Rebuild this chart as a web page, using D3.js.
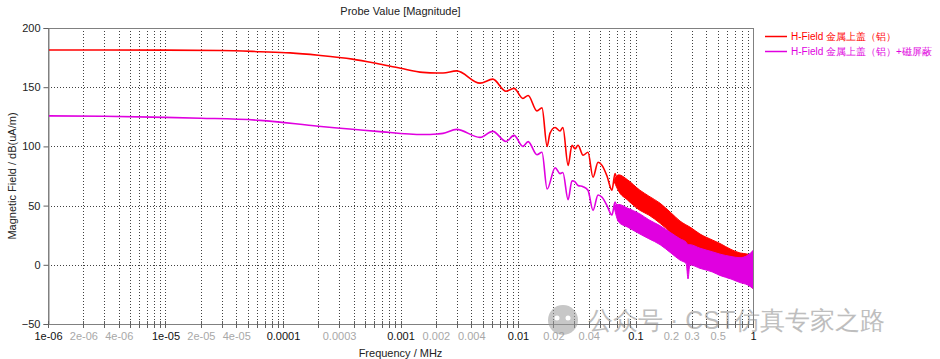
<!DOCTYPE html>
<html><head><meta charset="utf-8">
<script src="https://cdn.jsdelivr.net/npm/d3@7/dist/d3.min.js"></script>
<style>
html,body{margin:0;padding:0;background:#fff;}
svg{display:block;}
text{font-family:"Liberation Sans",Arial,sans-serif;}
</style></head>
<body>
<script>
// ---------- DATA ----------
const redFreq = [1e-6, 1e-5, 3e-5, 6.4e-5, 1.15e-4, 2e-4, 3.9e-4, 6.3e-4, 1e-3, 1.55e-3, 2.05e-3, 2.3e-3, 3e-3, 4.75e-3, 6.1e-3, 7.9e-3, 9.25e-3, 1.1e-2, 1.22e-2, 1.45e-2, 1.6e-2, 1.77e-2, 1.87e-2, 2.07e-2, 2.28e-2, 2.41e-2, 2.67e-2, 2.88e-2, 3.06e-2, 3.24e-2, 3.58e-2, 3.94e-2, 4.35e-2, 4.8e-2, 5.19e-2, 5.72e-2, 6.3e-2, 6.7e-2, 7.0e-2];
const redVal  = [181.4, 181.3, 181, 180, 179, 177, 173.7, 170, 166, 162.5, 162, 162, 163.8, 153.4, 156.8, 146.6, 149, 140.5, 143, 130, 132.5, 100, 111, 116, 113, 116, 84, 101, 98, 101, 92.6, 95, 74, 86.6, 84, 75, 63, 77, 70];

const magFreq = [1e-6, 3e-6, 1e-5, 2e-5, 6.4e-5, 2e-4, 6.3e-4, 1.55e-3, 2.05e-3, 2.3e-3, 3e-3, 4.75e-3, 6.1e-3, 7.9e-3, 9.25e-3, 1.1e-2, 1.22e-2, 1.45e-2, 1.6e-2, 1.77e-2, 2.07e-2, 2.28e-2, 2.41e-2, 2.67e-2, 2.88e-2, 3.06e-2, 3.24e-2, 3.58e-2, 3.94e-2, 4.35e-2, 4.8e-2, 5.19e-2, 5.72e-2, 6.3e-2, 6.7e-2, 7.0e-2];
const magVal  = [125.8, 125.5, 124.5, 123.8, 122, 117, 112.7, 110, 110.5, 111, 114.4, 107.6, 112.7, 104.2, 109.3, 100, 104, 93, 95, 64, 82, 77, 78, 55, 71, 70, 67, 66, 63, 46, 59, 57, 50, 42, 53, 47];

// high-frequency oscillating region: upper / lower envelopes
const redBandFreq = [0.066, 0.072, 0.085, 0.109, 0.13, 0.162, 0.2, 0.239, 0.3, 0.354, 0.45, 0.524, 0.65, 0.775, 0.9, 1.0];
const redHi = [72, 76, 72, 63, 58, 52, 44, 37, 31, 26, 21, 18, 13, 10, 9, 6];
const redLo = [70, 62, 55, 46, 42, 35, 27, 19, 13, 9, 5, 2, -3, -6, -10, -20];

const magBandFreq = [0.066, 0.072, 0.085, 0.109, 0.13, 0.162, 0.2, 0.239, 0.27, 0.28, 0.29, 0.354, 0.45, 0.524, 0.65, 0.775, 0.9, 1.0];
const magHi = [50, 51, 48, 43, 38, 33, 27, 22, 19, 17, 17, 14, 11, 9, 7, 6, 8, 12];
const magLo = [48, 36, 32, 26, 22, 17, 10, 4, 1, -12, 0, -3, -6, -9, -12, -15, -17, -20];

const seriesNames = ["H-Field 金属上盖（铝）", "H-Field 金属上盖（铝）+磁屏蔽"];
const seriesColors = ["#ff0000", "#e000e0"];

const yTicks = [200, 150, 100, 50, 0, -50];
const xMajorTicks = [1e-6, 1e-5, 1e-4, 1e-3, 1e-2, 1e-1, 1];
const xMajorLabels = ["1e-06", "1e-05", "0.0001", "0.001", "0.01", "0.1", "1"];
const xMinorLabelVals = [2e-6, 4e-6, 2e-5, 4e-5, 3e-4, 2e-3, 4e-3, 2e-2, 4e-2, 0.2, 0.3, 0.5];
const xMinorLabels = ["2e-06", "4e-06", "2e-05", "4e-05", "0.0003", "0.002", "0.004", "0.02", "0.04", "0.2", "0.3", "0.5"];

// ---------- LAYOUT ----------
const W = 940, H = 359;
const L = 48, R = 753, T = 28, B = 324;

const svg = d3.select("body").append("svg").attr("width", W).attr("height", H);

const x = d3.scaleLog().domain([1e-6, 1]).range([L, R]);
const y = d3.scaleLinear().domain([-50, 200]).range([B, T]);

const gridVals = [];
for (let e = -6; e < 0; e++) for (let m = 1; m <= 9; m++) gridVals.push(m * Math.pow(10, e));
gridVals.push(1);

const px = v => Math.round(x(v)) + 0.5;
const py = v => Math.round(y(v)) + 0.5;

svg.append("g").selectAll("line").data(gridVals.filter(v => v > 1e-6 && v < 1)).join("line")
  .attr("x1", d => px(d)).attr("x2", d => px(d)).attr("y1", T).attr("y2", B)
  .attr("stroke", "#404040").attr("stroke-width", 1).attr("stroke-dasharray", "1,2")
  .attr("shape-rendering", "crispEdges");
svg.append("g").selectAll("line").data(yTicks.filter(v => v > -50 && v < 200)).join("line")
  .attr("x1", L).attr("x2", R).attr("y1", d => py(d)).attr("y2", d => py(d))
  .attr("stroke", "#404040").attr("stroke-width", 1).attr("stroke-dasharray", "1,2")
  .attr("shape-rendering", "crispEdges");

svg.append("rect").attr("x", L + 0.5).attr("y", T + 0.5).attr("width", R - L).attr("height", B - T)
  .attr("fill", "none").attr("stroke", "#808080").attr("stroke-width", 1).attr("shape-rendering", "crispEdges");

const yAxis = d3.axisLeft(y).tickValues(yTicks).tickSize(5).tickPadding(3).tickFormat(d3.format("d"));
const gy = svg.append("g").attr("transform", `translate(${L + 0.5},0)`).call(yAxis);
gy.select(".domain").attr("stroke", "#808080");
gy.selectAll(".tick line").attr("stroke", "#606060");
gy.selectAll(".tick text").attr("font-size", 11).attr("fill", "#222").attr("font-family", "Liberation Sans, Arial, sans-serif");

svg.append("g").selectAll("line").data(gridVals).join("line")
  .attr("x1", d => px(d)).attr("x2", d => px(d)).attr("y1", B - 3).attr("y2", B + 4)
  .attr("stroke", "#606060").attr("shape-rendering", "crispEdges");

const xAxisMajor = d3.axisBottom(x).tickValues(xMajorTicks).tickSize(0).tickPadding(0)
  .tickFormat((d, i) => xMajorLabels[i]);
const gx1 = svg.append("g").attr("transform", `translate(0,${B + 8})`).call(xAxisMajor);
gx1.select(".domain").remove();
gx1.selectAll(".tick text").attr("font-size", 11).attr("fill", "#111").attr("dy", "0.71em")
  .attr("font-family", "Liberation Sans, Arial, sans-serif");

const xAxisMinor = d3.axisBottom(x).tickValues(xMinorLabelVals).tickSize(0).tickPadding(0)
  .tickFormat((d, i) => xMinorLabels[i]);
const gx2 = svg.append("g").attr("transform", `translate(0,${B + 8})`).call(xAxisMinor);
gx2.select(".domain").remove();
gx2.selectAll(".tick text").attr("font-size", 11).attr("fill", "#a8a8a8").attr("dy", "0.71em")
  .attr("font-family", "Liberation Sans, Arial, sans-serif");

svg.append("text").attr("x", (L + R) / 2).attr("y", 15).attr("text-anchor", "middle")
  .attr("font-size", 11).attr("fill", "#222").text("Probe Value [Magnitude]");
svg.append("text").attr("x", (L + R) / 2).attr("y", 357).attr("text-anchor", "middle")
  .attr("font-size", 11).attr("fill", "#222").text("Frequency / MHz");
svg.append("text").attr("transform", `translate(16,${(T + B) / 2}) rotate(-90)`).attr("text-anchor", "middle")
  .attr("font-size", 11).attr("fill", "#222").text("Magnetic Field / dB(uA/m)");

svg.append("clipPath").attr("id", "clip").append("rect")
  .attr("x", L + 1).attr("y", T + 1).attr("width", R - L - 1).attr("height", B - T - 1);
const plot = svg.append("g").attr("clip-path", "url(#clip)");

const line = d3.line().x(d => x(d[0])).y(d => y(d[1])).curve(d3.curveMonotoneX);
const area = d3.area().x(d => x(d[0])).y0(d => y(d[2])).y1(d => y(d[1])).curve(d3.curveMonotoneX);

const redLine = redFreq.map((f, i) => [f, redVal[i]]);
const magLine = magFreq.map((f, i) => [f, magVal[i]]);
const redBand = redBandFreq.map((f, i) => [f, redHi[i], redLo[i]]);
const magBand = magBandFreq.map((f, i) => [f, magHi[i], magLo[i]]);

plot.append("path").datum(redBand).attr("d", area).attr("fill", seriesColors[0]).attr("stroke", seriesColors[0]).attr("stroke-width", 1);
plot.append("path").datum(redLine).attr("d", line).attr("fill", "none").attr("stroke", seriesColors[0]).attr("stroke-width", 1.6);
plot.append("path").datum(magBand).attr("d", area).attr("fill", seriesColors[1]).attr("stroke", seriesColors[1]).attr("stroke-width", 1);
plot.append("path").datum(magLine).attr("d", line).attr("fill", "none").attr("stroke", seriesColors[1]).attr("stroke-width", 1.6);

// legend
const lg = svg.append("g").selectAll("g").data(seriesNames).join("g")
  .attr("transform", (d, i) => `translate(765,${36 + i * 15})`);
lg.append("line").attr("x1", 0).attr("x2", 22).attr("y1", 0.5).attr("y2", 0.5)
  .attr("stroke", (d, i) => seriesColors[i]).attr("stroke-width", 1.5);
lg.append("text").attr("x", 26).attr("y", 4).attr("font-size", 10)
  .attr("font-family", "Liberation Sans, 'Noto Sans CJK SC', sans-serif")
  .attr("fill", (d, i) => seriesColors[i]).text(d => d);

// watermark
const wm = svg.append("g").attr("opacity", 0.55);
wm.append("circle").attr("cx", 563).attr("cy", 320).attr("r", 15).attr("fill", "#9a9a9a");
wm.append("circle").attr("cx", 557).attr("cy", 318).attr("r", 2.5).attr("fill", "#fff");
wm.append("circle").attr("cx", 568).attr("cy", 318).attr("r", 2.5).attr("fill", "#fff");
wm.append("text").attr("x", 588).attr("y", 329).attr("font-size", 25)
  .attr("font-family", "'Noto Sans CJK SC', sans-serif").attr("fill", "#8a8a8a")
  .text("公众号 · CST仿真专家之路");
</script>
</body></html>
